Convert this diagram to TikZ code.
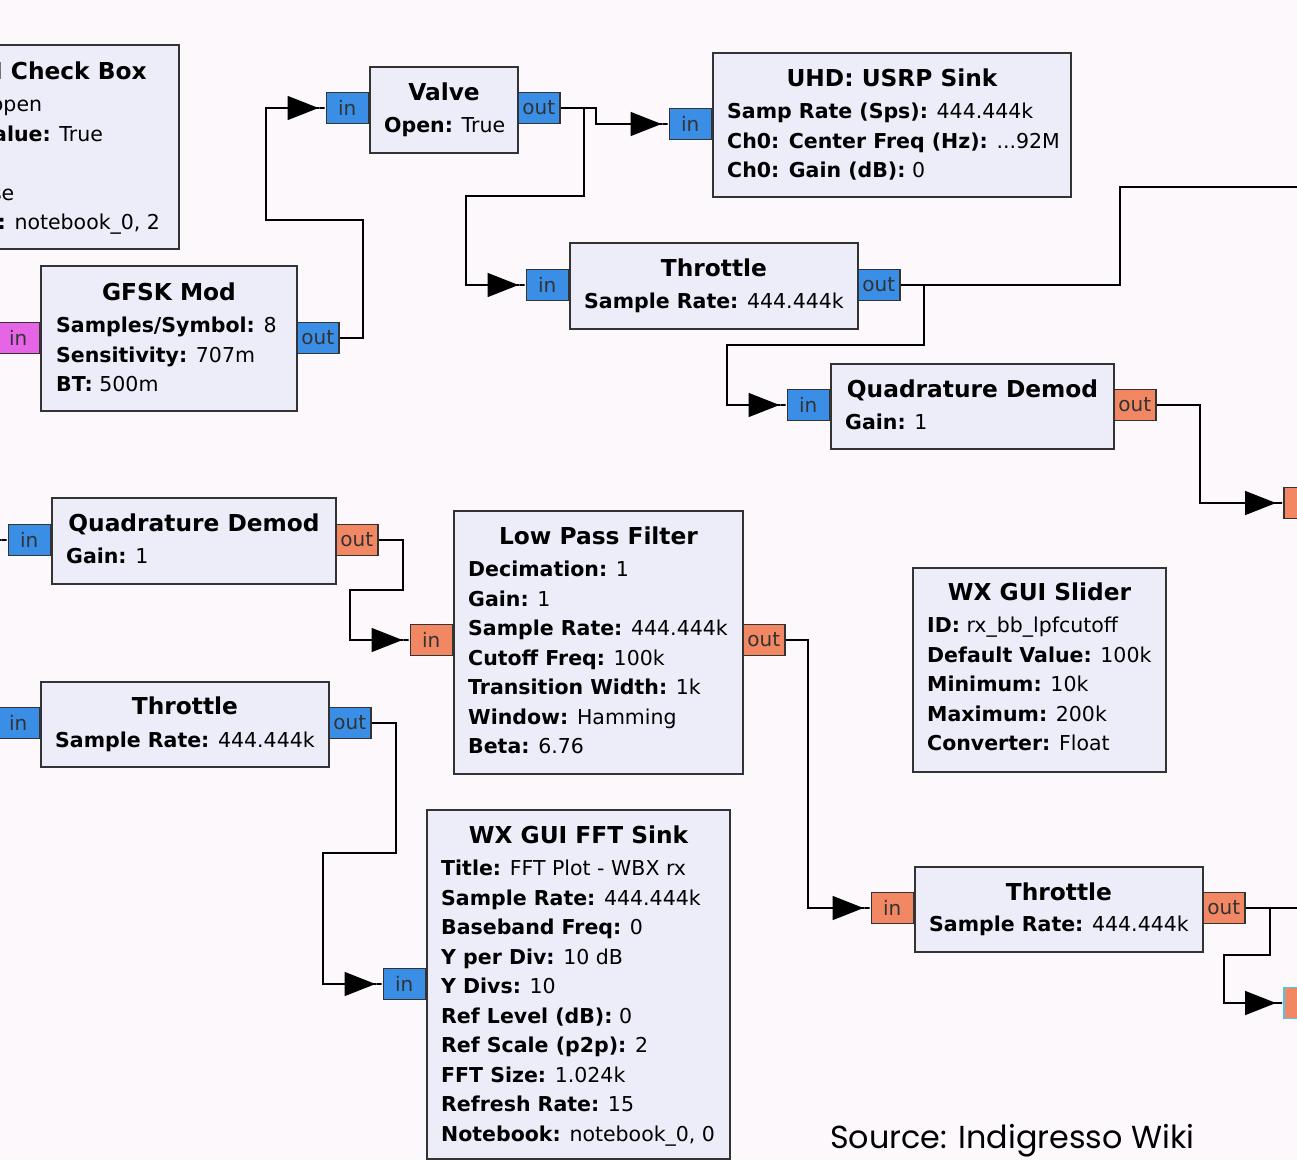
\documentclass[tikz,border=0pt]{standalone}
\usepackage{fontspec}
\setmainfont{DejaVu Sans}
\newfontfamily\srcfont{Poppins}
\usetikzlibrary{arrows.meta}
\definecolor{bgc}{RGB}{253,248,252}
\definecolor{blkc}{RGB}{237,237,250}
\definecolor{cplx}{RGB}{58,142,230}
\definecolor{flt}{RGB}{242,135,100}
\definecolor{byt}{RGB}{230,100,230}
\newcommand\kv[2]{\textbf{#1:} #2}
\tikzset{
 blk/.style={draw=black!80,fill=blkc,line width=2pt,anchor=north west,inner sep=0pt},
 ttl/.style={font=\fontsize{23.3}{28}\selectfont\bfseries,anchor=base},
 prm/.style={font=\fontsize{20.5}{29.5}\selectfont,anchor=base west,inner sep=0pt},
 portbox/.style={draw=black!80,line width=1.5pt,minimum width=42pt,minimum height=31pt,inner sep=0pt,font=\fontsize{20}{24}\selectfont,text=black!80},
 iport/.style={portbox,anchor=east},
 oport/.style={portbox,anchor=west},
 wire/.style={line width=1.6pt,-{Triangle[length=31pt,width=24pt]Rectangle[length=7pt,width=1.6pt]}}
}
\begin{document}
\begin{tikzpicture}[x=1pt,y=-1pt]
\useasboundingbox (0,0) rectangle (1297,1160);
\fill[bgc] (0,0) rectangle (1297,1160);
\clip (0,0) rectangle (1297,1160);
% blocks
\node[blk,minimum width=307pt,minimum height=204pt] (chk) at (-129,44) {};
\node[ttl] at ([yshift=-35.5pt]chk.north) {WX GUI Check Box};
\foreach \t [count=\i] in {{\kv{ID}{valve\_open}},{\kv{Default Value}{True}},{\kv{True}{True}},{\kv{False}{False}},{\kv{Notebook}{notebook\_0, 2}}}
  \node[prm] at ([shift={(15,38+29.5*\i)}]chk.north west) {\t};
\node[blk,minimum width=256pt,minimum height=145pt] (gfsk) at (40,265) {};
\node[ttl] at ([yshift=-35pt]gfsk.north) {GFSK Mod};
\foreach \t [count=\i] in {{\kv{Samples/Symbol}{8}},{\kv{Sensitivity}{707m}},{\kv{BT}{500m}}}
  \node[prm] at ([shift={(16,38+29.5*\i)}]gfsk.north west) {\t};
\node[blk,minimum width=148pt,minimum height=86pt] (valve) at (369,66) {};
\node[ttl] at ([yshift=-34.5pt]valve.north) {Valve};
\node[prm] at ([shift={(15,66.5)}]valve.north west) {\kv{Open}{True}};
\node[blk,minimum width=358pt,minimum height=144pt] (usrp) at (712,52) {};
\node[ttl] at ([yshift=-34.5pt]usrp.north) {UHD: USRP Sink};
\foreach \t [count=\i] in {{\kv{Samp Rate (Sps)}{444.444k}},{\kv{Ch0: Center Freq (Hz)}{...92M}},{\kv{Ch0: Gain (dB)}{0}}}
  \node[prm] at ([shift={(15,37+29.5*\i)}]usrp.north west) {\t};
\node[blk,minimum width=288pt,minimum height=86pt] (thrA) at (569,242) {};
\node[ttl] at ([yshift=-34.5pt]thrA.north) {Throttle};
\node[prm] at ([shift={(15,66.5)}]thrA.north west) {\kv{Sample Rate}{444.444k}};
\node[blk,minimum width=283pt,minimum height=85pt] (qdA) at (830,363) {};
\node[ttl] at ([yshift=-34.5pt]qdA.north) {Quadrature Demod};
\node[prm] at ([shift={(15,66)}]qdA.north west) {\kv{Gain}{1}};
\node[blk,minimum width=284pt,minimum height=86pt] (qdB) at (51,497) {};
\node[ttl] at ([yshift=-34.5pt]qdB.north) {Quadrature Demod};
\node[prm] at ([shift={(15,66)}]qdB.north west) {\kv{Gain}{1}};
\node[blk,minimum width=289pt,minimum height=263pt] (lpf) at (453,510) {};
\node[ttl] at ([yshift=-34.5pt]lpf.north) {Low Pass Filter};
\foreach \t [count=\i] in {{\kv{Decimation}{1}},{\kv{Gain}{1}},{\kv{Sample Rate}{444.444k}},{\kv{Cutoff Freq}{100k}},{\kv{Transition Width}{1k}},{\kv{Window}{Hamming}},{\kv{Beta}{6.76}}}
  \node[prm] at ([shift={(15,37+29.5*\i)}]lpf.north west) {\t};
\node[blk,minimum width=288pt,minimum height=85pt] (thrB) at (40,681) {};
\node[ttl] at ([yshift=-33.5pt]thrB.north) {Throttle};
\node[prm] at ([shift={(15,66)}]thrB.north west) {\kv{Sample Rate}{444.444k}};
\node[blk,minimum width=303pt,minimum height=349pt] (fft) at (426,809) {};
\node[ttl] at ([yshift=-34.5pt]fft.north) {WX GUI FFT Sink};
\foreach \t [count=\i] in {{\kv{Title}{FFT Plot - WBX rx}},{\kv{Sample Rate}{444.444k}},{\kv{Baseband Freq}{0}},{\kv{Y per Div}{10 dB}},{\kv{Y Divs}{10}},{\kv{Ref Level (dB)}{0}},{\kv{Ref Scale (p2p)}{2}},{\kv{FFT Size}{1.024k}},{\kv{Refresh Rate}{15}},{\kv{Notebook}{notebook\_0, 0}}}
  \node[prm] at ([shift={(15,37+29.5*\i)}]fft.north west) {\t};
\node[blk,minimum width=253pt,minimum height=204pt] (sld) at (912,567) {};
\node[ttl] at ([yshift=-33.5pt]sld.north) {WX GUI Slider};
\foreach \t [count=\i] in {{\kv{ID}{rx\_bb\_lpfcutoff}},{\kv{Default Value}{100k}},{\kv{Minimum}{10k}},{\kv{Maximum}{200k}},{\kv{Converter}{Float}}}
  \node[prm] at ([shift={(15,36+29.5*\i)}]sld.north west) {\t};
\node[blk,minimum width=288pt,minimum height=85pt] (thrC) at (914,866) {};
\node[ttl] at ([yshift=-34.5pt]thrC.north) {Throttle};
\node[prm] at ([shift={(15,65.5)}]thrC.north west) {\kv{Sample Rate}{444.444k}};
% ports
\node[iport,fill=byt] (gfski) at (40,338) {in};
\node[oport,fill=cplx] (gfsko) at (296,338) {out};
\node[iport,fill=cplx] (valvei) at (369,108) {in};
\node[oport,fill=cplx] (valveo) at (517,108) {out};
\node[iport,fill=cplx] (usrpi) at (712,124) {in};
\node[iport,fill=cplx] (thrAi) at (569,285) {in};
\node[oport,fill=cplx] (thrAo) at (857,285) {out};
\node[iport,fill=cplx] (qdAi) at (830,405) {in};
\node[oport,fill=flt] (qdAo) at (1113,405) {out};
\node[iport,fill=cplx] (qdBi) at (51,540) {in};
\node[oport,fill=flt] (qdBo) at (335,540) {out};
\node[iport,fill=flt] (lpfi) at (453,640) {in};
\node[oport,fill=flt] (lpfo) at (742,640) {out};
\node[iport,fill=cplx] (thrBi) at (40,723) {in};
\node[oport,fill=cplx] (thrBo) at (328,723) {out};
\node[iport,fill=cplx] (ffti) at (426,984) {in};
\node[iport,fill=flt] (thrCi) at (914,908) {in};
\node[oport,fill=flt] (thrCo) at (1202,908) {out};
\node[oport,fill=flt] (nxtA) at (1283,503) {in};
\node[oport,fill=flt,draw=cyan!70] (nxtB) at (1283,1003) {in};
\coordinate (offA) at (1350,187);
\coordinate (offB) at (-60,540);
\coordinate (offC) at (1350,908);
% connections
\draw[wire] (gfsko.east) -| (363,220) -- (266,220) |- (valvei.west);
\draw[wire] (valveo.east) -| (596,124) -- (usrpi.west);
\draw[wire] (valveo.east) -| (584,196) -- (466,196) |- (thrAi.west);
\draw[wire] (thrAo.east) -| (1120,187) -- (offA);
\draw[wire] (thrAo.east) -| (924,345) -- (727,345) |- (qdAi.west);
\draw[wire] (qdAo.east) -| (1200,503) -- (nxtA.west);
\draw[wire] (offB) -- (qdBi.west);
\draw[wire] (qdBo.east) -| (403,590) -- (350,590) |- (lpfi.west);
\draw[wire] (lpfo.east) -| (808,908) -- (thrCi.west);
\draw[wire] (thrBo.east) -| (396,853) -- (323,853) |- (ffti.west);
\draw[wire] (thrCo.east) -- (offC);
\draw[wire] (thrCo.east) -| (1270,955) -- (1224,955) |- (nxtB.west);
\node[font=\srcfont\fontsize{31.8}{36}\selectfont,anchor=base west,inner sep=0pt] (src) at (830,1148) {Source: Indigresso Wiki};
\end{tikzpicture}
\end{document}
